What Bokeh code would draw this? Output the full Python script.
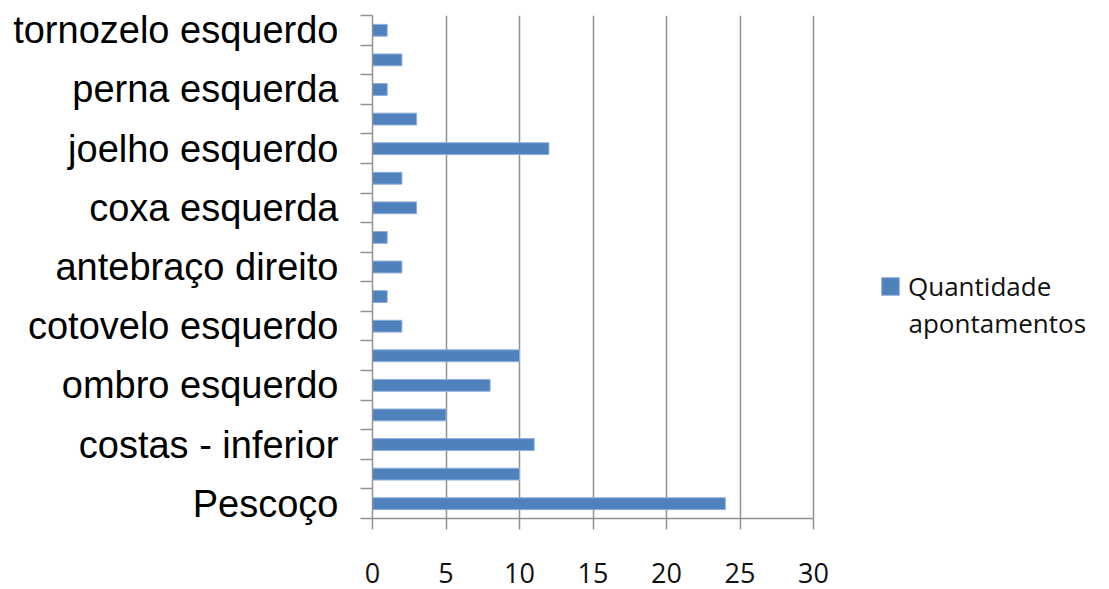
from bokeh.plotting import figure
from bokeh.models import Range1d, FixedTicker, Legend, LegendItem, ColumnDataSource, Label
from bokeh.embed import file_html
from bokeh.resources import INLINE

# Body regions, listed from the bottom of the chart upwards
regions = [
    "Pescoço", "costas - superior", "costas - inferior", "ombro direito",
    "ombro esquerdo", "cotovelo direito", "cotovelo esquerdo", "antebraço esquerdo",
    "antebraço direito", "punho direito", "coxa esquerda", "coxa direita",
    "joelho esquerdo", "joelho direito", "perna esquerda", "perna direita",
    "tornozelo esquerdo",
]
counts = [24, 10, 11, 5, 8, 10, 2, 1, 2, 1, 3, 2, 12, 3, 1, 2, 1]
x_ticks = [0, 5, 10, 15, 20, 25, 30]
series_name = ["Quantidade", "apontamentos"]

n = len(regions)
centers = [i + 0.5 for i in range(n)]
source = ColumnDataSource(dict(y=centers, right=counts, name=regions))

grey = "#929292"

# layout in pixels: the value axis covers 441 px, the frame continues to the
# right so that the legend area sits inside it
W, H = 1109, 589
left, right_pad, top, bottom = 372, 10, 15, 71
axis_px = 441
frame_w = W - left - right_pad
x_max = x_ticks[-1] * frame_w / axis_px

p = figure(
    width=W, height=H,
    x_range=Range1d(0, x_max), y_range=Range1d(0, n),
    output_backend="svg", toolbar_location=None,
    min_border_left=left, min_border_right=right_pad,
    min_border_top=top, min_border_bottom=bottom,
)
p.outline_line_color = None
p.background_fill_color = "white"

bars = p.hbar(y="y", right="right", left=0, height=0.4, source=source,
              fill_color="#4F81BD", line_color="#8FAEDA", line_width=1)

# x axis and vertical gridlines, limited to 0..30
p.xaxis.ticker = FixedTicker(ticks=x_ticks)
p.xaxis.bounds = (x_ticks[0], x_ticks[-1])
p.xaxis.axis_line_color = grey
p.xaxis.axis_line_width = 1.5
p.xaxis.major_tick_line_color = grey
p.xaxis.major_tick_line_width = 1.5
p.xaxis.major_tick_out = 11
p.xaxis.major_tick_in = 0
p.xaxis.minor_tick_line_color = None
p.xaxis.major_label_text_font = "Open Sans"
p.xaxis.major_label_text_font_size = "27px"
p.xaxis.major_label_text_color = "#111111"
p.xaxis.major_label_standoff = 33
p.xgrid.ticker = FixedTicker(ticks=x_ticks)
p.xgrid.bounds = (x_ticks[0], x_ticks[-1])
p.xgrid.grid_line_color = grey
p.xgrid.grid_line_width = 1.5
p.ygrid.grid_line_color = None

# y axis: labels on every other category, tick marks between categories
p.yaxis.ticker = FixedTicker(ticks=centers, minor_ticks=list(range(n + 1)))
p.yaxis.major_label_overrides = {
    c: (name if i % 2 == 0 else "") for i, (c, name) in enumerate(zip(centers, regions))
}
p.yaxis.axis_line_color = grey
p.yaxis.axis_line_width = 1.5
p.yaxis.major_tick_line_color = None
p.yaxis.major_tick_out = 0
p.yaxis.major_tick_in = 0
p.yaxis.minor_tick_line_color = grey
p.yaxis.minor_tick_line_width = 1.5
p.yaxis.minor_tick_out = 12
p.yaxis.minor_tick_in = 0
p.yaxis.major_label_text_font = "Liberation Sans"
p.yaxis.major_label_text_font_size = "38px"
p.yaxis.major_label_text_color = "#000000"
p.yaxis.major_label_standoff = 22

# legend: square + first line of the series name, second line below it
legend = Legend(
    items=[LegendItem(label=series_name[0], renderers=[bars])],
    location=(507, 214),
    glyph_width=22, glyph_height=22,
    label_standoff=7, label_height=14,
    label_text_font="Open Sans", label_text_font_size="26px",
    label_text_color="#111111",
    padding=0, margin=0, spacing=0,
    border_line_color=None, background_fill_alpha=0,
)
p.add_layout(legend)
p.add_layout(Label(
    x=536, y=196, x_units="screen", y_units="screen",
    text=series_name[1], text_font="Open Sans", text_font_size="26px",
    text_color="#111111", text_baseline="alphabetic",
))

open("out.html", "w").write(file_html(p, INLINE))
